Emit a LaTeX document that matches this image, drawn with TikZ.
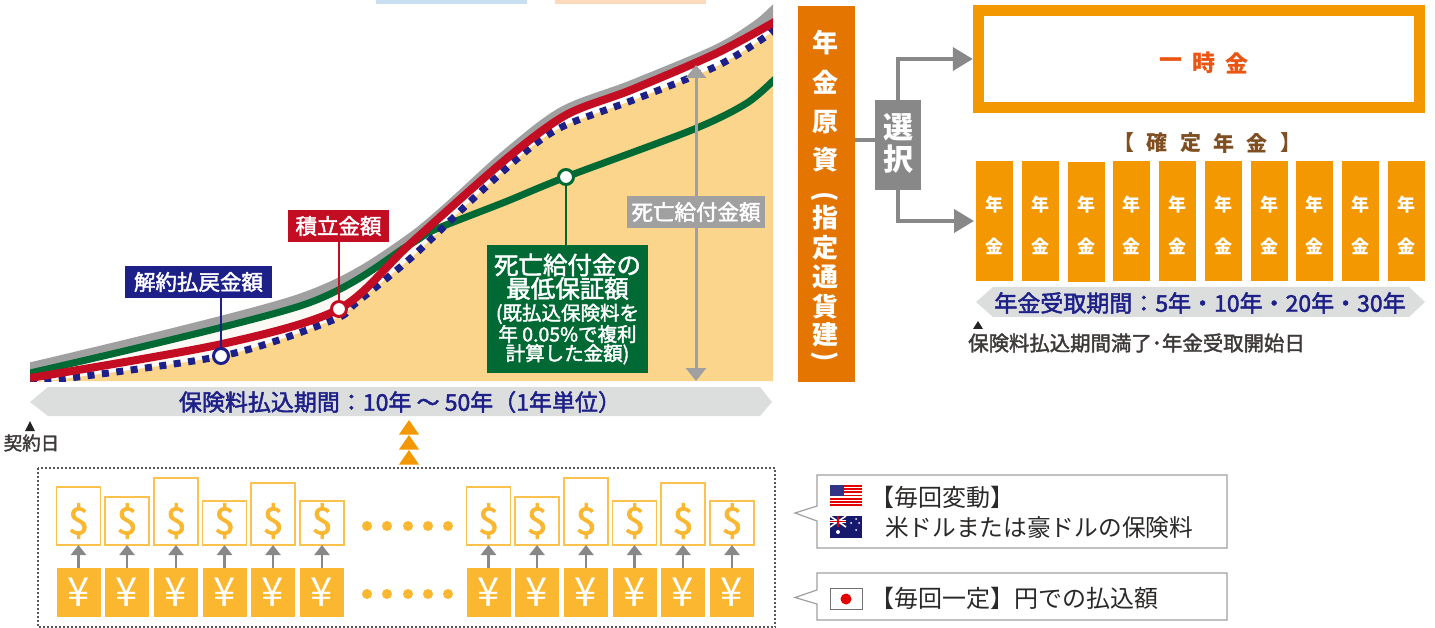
\documentclass[tikz,border=0pt]{standalone}
\usepackage{fontspec}
\setmainfont{Noto Sans CJK JP}
\newfontfamily\med[FakeBold=2]{Noto Sans CJK JP}
\usetikzlibrary{arrows.meta}
\newcommand\fs[1]{\fontsize{#1}{#1}\selectfont}
\definecolor{navy}{HTML}{1D2088}
\definecolor{crim}{HTML}{C30D23}
\definecolor{dgreen}{HTML}{006934}
\definecolor{tan}{HTML}{FBD58B}
\definecolor{lgray}{HTML}{A0A0A0}
\definecolor{mgray}{HTML}{888888}
\definecolor{band}{HTML}{DCDDDD}
\definecolor{orng}{HTML}{F39800}
\definecolor{dorng}{HTML}{E47500}
\definecolor{yel}{HTML}{FAB72F}
\definecolor{ink}{HTML}{3E3A39}
\definecolor{brownish}{HTML}{7F4F21}
\tikzset{
  x=1pt,y=-1pt,
  bx/.style 2 args={minimum width=#1,minimum height=#2,inner sep=0,outer sep=0,draw=none},
  lab/.style={text=white,font=\med\fs{21.5},inner sep=0,outer sep=0},
  ring/.style={circle,fill=white,line width=3pt,minimum size=15,inner sep=0,outer sep=0},
  dol/.style={inner sep=0,outer sep=0,draw=yel!85,line width=1.3pt,fill=white,minimum width=44,anchor=south},
  yen/.style={inner sep=0,outer sep=0,fill=yel,minimum width=44,minimum height=49,text=white,font=\fs{40}},
  upar/.style={draw=mgray,line width=2.6pt,-{Triangle[width=15,length=10]}},
  selar/.style={draw=mgray,line width=4pt,-{Triangle[width=23,length=20]}},
  callout/.style={draw=lgray,line width=1.2pt,fill=white},
  cotext/.style={text=ink!70!black,font=\fs{24},inner sep=0,outer sep=0,anchor=west},
  coltext/.style={text=white,font=\bfseries\fs{18},inner sep=0},
  vtext/.style={text=white,font=\bfseries\fs{26},inner sep=0},
  dotl/.style={fill=yel,circle,minimum size=10,inner sep=0}
}
\begin{document}
\begin{tikzpicture}
\useasboundingbox (0,0) rectangle (1435,628);
% top slivers
\fill[fill={rgb,255:red,201;green,224;blue,243}] (376,0) rectangle (527,4);
\fill[fill={rgb,255:red,251;green,217;blue,186}] (555,0) rectangle (706,4);
% chart
\begin{scope}
\clip (30,0) rectangle (773,381);
\fill[fill={rgb,255:red,252;green,248;blue,243}] plot[smooth,tension=.5] coordinates {(30,367) (298,299) (409,238) (505,155)} -- (505,381) -- (30,381) -- cycle;
\fill[tan] plot[smooth,tension=.5] coordinates {(30,383) (222,356) (333,320) (356,303) (412,257) (475,197) (530,148) (566,125) (636,99) (717,66) (768,35) (775,25)} -- (775,381) -- (30,381) -- cycle;
\draw[lgray,line width=11pt] plot[smooth,tension=.5] coordinates {(30,368) (298,300) (409,240) (505,156) (563,112) (631,86) (717,50) (758,25) (778,7)};
\draw[dgreen,line width=7pt] plot[smooth,tension=.5] coordinates {(30,373) (303,305) (409,245) (434,230) (505,202) (566,177) (692,130) (747,103) (778,76)};
\draw[navy,line width=7pt,dash pattern=on 7pt off 7.5pt] plot[smooth,tension=.5] coordinates {(30,383) (222,356) (333,320) (356,303) (412,257) (475,197) (530,148) (566,125) (636,99) (717,66) (768,35) (775,25)};
\draw[crim,line width=8pt] plot[smooth,tension=.5] coordinates {(30,378) (222,344) (339,309) (409,245) (505,160) (566,115) (631,90) (717,53) (778,20)};
\end{scope}
\node[bx={147}{32},fill=navy,lab] (kai) at (198.5,282) {解約払戻金額};
\node[bx={101}{32},fill=crim,lab] (tsu) at (338.5,226) {積立金額};
\node[ring,draw=navy] (rn) at (221,356) {};
\node[ring,draw=crim] (rr) at (339,309) {};
\node[ring,draw=dgreen] (rg) at (566,177) {};
\draw[navy,line width=2pt] (rn.north |- kai.south) -- (rn.north);
\draw[crim,line width=2pt] (rr.north |- tsu.south) -- (rr.north);
\node[bx={161}{128},fill=dgreen,text=white,align=center,font=\med] (gr) at (567.5,309)
  {\fontsize{24.5}{23}\selectfont 死亡給付金の\\\fontsize{24.5}{23}\selectfont 最低保証額\\[3pt]\fontsize{19.5}{23}\selectfont (既払込保険料を\\\fontsize{19.5}{22}\selectfont 年 0.05\%で複利\\\fontsize{19.5}{21.5}\selectfont 計算した金額)};
\draw[dgreen,line width=2pt] (rg.south) -- (gr.north -| rg.south);
\coordinate (dt) at (696,65);
\coordinate (db) at (696,381);
\draw[lgray,line width=3pt,{Triangle[width=20,length=13]}-{Triangle[width=20,length=13]}] (dt) -- (db);
\node[bx={138}{32},fill=lgray,lab] (shi) at (696,212) {死亡給付金額};
% band
\fill[band] (30,402) -- (48,387) -- (760,387) -- (772,402) -- (760,416) -- (48,416) -- cycle;
\node[inner sep=0,text=navy,font=\med\fs{23}] (ki) at (400,402) {保険料払込期間：10年 ～ 50年（1年単位）};
% contract day
\fill[ink!60!black] (30,421) -- (35,431) -- (25,431) -- cycle;
\node[inner sep=0,text=ink,font=\med\fs{18.5}] (kei) at (31.5,443) {契約日};
% triple triangles
\foreach \y in {420,435,450}{\fill[orng] (409,\y) -- (419,\y+14.5) -- (399,\y+14.5) -- cycle;}
% dotted box
\draw[ink!85,line width=2pt,dash pattern=on 2pt off 2pt] (37.5,468) rectangle (775,627);
% dollars and yen
\foreach \i/\xx/\h in {1/78.5/58,2/127/48,3/176/67,4/224.5/44,5/273/62,6/322/44,7/488.5/58,8/537/48,9/586/67,10/634.5/44,11/683/62,12/732/44}{
  \node[dol,minimum height=\h] (d\i) at (\xx,545) {};
  \node[inner sep=0,text=yel,font=\med\fs{37}] (ds\i) at (\xx,521) {\$};
  \node[yen] (y\i) at (\xx,592.5) {¥};
  \draw[upar] (y\i.north) -- (d\i.south);
}
\foreach \xx in {367,387,408,428,448}{
  \node[dotl] at (\xx,526) {};
  \node[dotl] at (\xx,594) {};
}
% fund column
\node[bx={57}{376},fill=dorng] (fund) at (826.5,194) {};
\foreach \c/\y in {年/43,金/82,原/122,資/160,指/218,定/248,通/277,貨/307,建/335}{
  \node[vtext] at (825,\y) {\c};
}
\node[vtext,rotate=-90] at (825,197) {(};
\node[vtext,rotate=-90] at (825,357) {)};
% select
\node[bx={46}{90},fill=mgray] (sel) at (898,145) {};
\node[text=white,font=\bfseries\fs{30},inner sep=0] at (898,127) {選};
\node[text=white,font=\bfseries\fs{30},inner sep=0] at (898,159) {択};
\coordinate (c0) at (865,140);
\draw[mgray,line width=4pt] (fund.east |- c0) -- (sel.west |- c0);
% lump sum
\draw[orng,line width=11pt] (978.5,10.5) rectangle (1419.5,108);
\node[inner sep=0,minimum width=452,minimum height=108] (lump) at (1199,59) {};
\node[text={rgb,255:red,234;green,85;blue,20},font=\bfseries\fs{23},inner sep=0] at (1171,63) {一};
\node[text={rgb,255:red,234;green,85;blue,20},font=\bfseries\fs{23},inner sep=0] at (1204,63) {時};
\node[text={rgb,255:red,234;green,85;blue,20},font=\bfseries\fs{23},inner sep=0] (kin) at (1237,63) {金};
\foreach \c/\xx in {【/1124,確/1157,定/1191,年/1224,金/1257,】/1291}{
  \node[text=brownish,font=\bfseries\fs{21},inner sep=0] at (\xx,143) {\c};
}
% columns
\foreach \i/\xx/\d in {1/994.5/0,2/1040.5/0,3/1086.5/1,4/1131.5/0,5/1177.5/0,6/1223.5/0,7/1269.5/0,8/1314.5/0,9/1360.5/0,10/1406.5/0}{
  \node[bx={37}{120},fill=orng] (col\i) at (\xx,221+\d) {};
  \node[coltext] at (\xx,205) {年};
  \node[coltext] at (\xx,246) {金};
}
\draw[selar] (sel.north) |- (lump.west);
\draw[selar,shorten >=2pt] (sel.south) |- (col1.west);
% receipt band
\fill[band] (976,302) -- (993,287) -- (1409,287) -- (1425,302) -- (1409,317) -- (993,317) -- cycle;
\node[inner sep=0,text=navy,font=\med\fs{23}] (uk) at (1200,303) {年金受取期間：5年・10年・20年・30年};
\fill[ink!60!black] (978,321) -- (983,329) -- (973,329) -- cycle;
\node[inner sep=0,text=ink,font=\med\fs{20.4},anchor=west] (kai2) at (968,343) {保険料払込期間満了･年金受取開始日};
% callouts
\draw[callout] (817,475) -- (1227,475) -- (1227,548) -- (817,548) -- (817,521) -- (795,513) -- (817,506) -- cycle;
\draw[callout] (817,573) -- (1227,573) -- (1227,620) -- (817,620) -- (817,604) -- (795,597.5) -- (817,590) -- cycle;
\node[cotext] (t1) at (870,497) {【毎回変動】};
\node[cotext,font=\fs{23.7}] (t2) at (885,528) {米ドルまたは豪ドルの保険料};
\node[cotext] (t3) at (870,598) {【毎回一定】円での払込額};
% US flag
\fill[white] (830,485) rectangle (862,506);
\foreach \k in {0,2,...,12}{\fill[red!90!black] (830,485+\k*1.615) rectangle (862,485+\k*1.615+1.615);}
\fill[navy!80!gray] (830,485) rectangle (844,496);
% AU flag
\fill[navy!80!black] (830,516) rectangle (862,538);
\draw[white,line width=1.6pt] (830,516) -- (846,527) (846,516) -- (830,527);
\draw[white,line width=2.6pt] (838,516) -- (838,527) (830,521.5) -- (846,521.5);
\draw[red!85!black,line width=1.3pt] (838,516) -- (838,527) (830,521.5) -- (846,521.5);
\fill[white] (838,532) circle (2) (856,519) circle (1) (851,523) circle (1) (859,523) circle (1) (856,530) circle (1);
% JP flag
\draw[lgray!70!black,line width=.7pt,fill=white] (830,588) rectangle (862,609);
\fill[red!90!black] (846,599) circle (5.5);
\end{tikzpicture}
\end{document}
